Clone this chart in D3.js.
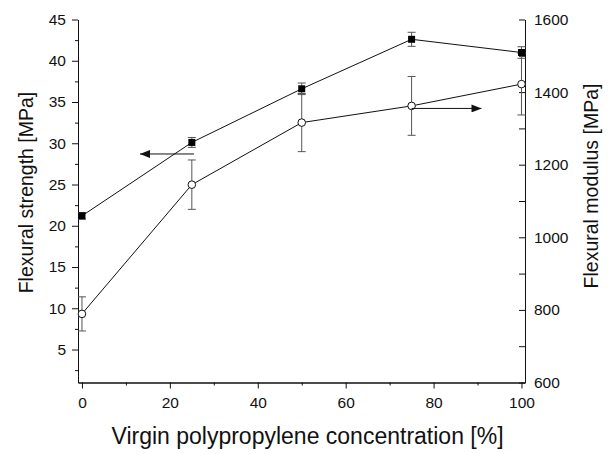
<!DOCTYPE html>
<html lang="en">
<head>
    <meta charset="UTF-8">
    <title>Flexural properties</title>
    <script src="https://d3js.org/d3.v7.min.js"></script>
    <style>
        body { margin: 0; background: #fff; }
        svg { display: block; }
        text { font-family: "Liberation Sans", Arial, sans-serif; fill: #111; }
        .axis path, .axis line { stroke: #111; stroke-width: 1px; }
        .axis text { font-size: 15.5px; }
        .title { font-size: 19.5px; }
    </style>
</head>
<body>
    <svg width="616" height="454"></svg>
    <script>
        // concentration of virgin PP [%]
        const concentration = [0, 25, 50, 75, 100];
        // flexural strength [MPa] (filled squares, left axis)
        const strength = [21.2, 30.1, 36.6, 42.6, 41.0];
        const strengthErr = [0.4, 0.6, 0.7, 0.85, 0.7];
        // flexural modulus [MPa] (open circles, right axis)
        const modulus = [789, 1145, 1316, 1362, 1422];
        const modulusErr = [47, 68, 80, 81, 85];

        const xTicks = [0, 20, 40, 60, 80, 100];
        const leftTicks = [5, 10, 15, 20, 25, 30, 35, 40, 45];
        const rightTicks = [600, 800, 1000, 1200, 1400, 1600];

        // arrows showing which curve belongs to which axis
        const arrows = [
            { from: 25.5, to: 13.2, value: 28.7, side: "left" },
            { from: 75, to: 90.9, value: 1355, side: "right" }
        ];

        const svg = d3.select("svg");
        const margin = { left: 78, right: 525, top: 19.5, bottom: 382.5 };

        const x = d3.scaleLinear().domain([-0.9, 100.8]).range([margin.left, margin.right]);
        const yL = d3.scaleLinear().domain([1, 45]).range([margin.bottom, margin.top]);
        const yR = d3.scaleLinear().domain([600, 1600]).range([margin.bottom, margin.top]);

        // minor ticks halfway between the majors
        const mid = arr => arr.slice(1).map((d, i) => (d + arr[i]) / 2);

        // bottom axis
        svg.append("g").attr("class", "axis")
            .attr("transform", `translate(0,${margin.bottom})`)
            .call(d3.axisBottom(x).tickValues(mid(xTicks)).tickSize(3).tickFormat("").tickSizeOuter(0));
        svg.append("g").attr("class", "axis")
            .attr("transform", `translate(0,${margin.bottom})`)
            .call(d3.axisBottom(x).tickValues(xTicks).tickSize(6).tickPadding(8).tickSizeOuter(0));

        // left axis
        svg.append("g").attr("class", "axis")
            .attr("transform", `translate(${margin.left},0)`)
            .call(d3.axisLeft(yL).tickValues([2.5].concat(mid(leftTicks))).tickSize(3).tickFormat("").tickSizeOuter(0));
        svg.append("g").attr("class", "axis")
            .attr("transform", `translate(${margin.left},0)`)
            .call(d3.axisLeft(yL).tickValues(leftTicks).tickSize(6).tickPadding(6).tickSizeOuter(0));

        // right axis, ticks point inward
        svg.append("g").attr("class", "axis")
            .attr("transform", `translate(${margin.right},0)`)
            .call(d3.axisRight(yR).tickValues(mid(rightTicks)).tickSize(-6).tickFormat("").tickSizeOuter(0));
        svg.append("g").attr("class", "axis")
            .attr("transform", `translate(${margin.right},0)`)
            .call(d3.axisRight(yR).tickValues(rightTicks).tickSize(-6).tickPadding(9)
                .tickFormat(d3.format("d")).tickSizeOuter(0));

        // axis titles
        svg.append("text").attr("class", "title")
            .attr("transform", "translate(33,192.5) rotate(-90)")
            .attr("text-anchor", "middle")
            .text("Flexural strength [MPa]");
        svg.append("text").attr("class", "title")
            .attr("transform", "translate(598,186) rotate(-90)")
            .attr("text-anchor", "middle")
            .text("Flexural modulus [MPa]");
        svg.append("text").attr("class", "title")
            .attr("x", 307.5)
            .attr("y", 444)
            .attr("text-anchor", "middle")
            .style("font-size", "23px")
            .text("Virgin polypropylene concentration [%]");

        const strengthData = concentration.map((c, i) => ({ x: c, y: strength[i], e: strengthErr[i] }));
        const modulusData = concentration.map((c, i) => ({ x: c, y: modulus[i], e: modulusErr[i] }));

        // error bars
        function errorBars(data, y) {
            const g = svg.append("g").attr("stroke", "#555").attr("stroke-width", 1);
            g.selectAll(".stem").data(data).enter().append("line")
                .attr("x1", d => x(d.x)).attr("x2", d => x(d.x))
                .attr("y1", d => y(d.y - d.e)).attr("y2", d => y(d.y + d.e));
            g.selectAll(".capTop").data(data).enter().append("line")
                .attr("x1", d => x(d.x) - 4).attr("x2", d => x(d.x) + 4)
                .attr("y1", d => y(d.y + d.e)).attr("y2", d => y(d.y + d.e));
            g.selectAll(".capBot").data(data).enter().append("line")
                .attr("x1", d => x(d.x) - 4).attr("x2", d => x(d.x) + 4)
                .attr("y1", d => y(d.y - d.e)).attr("y2", d => y(d.y - d.e));
        }
        errorBars(modulusData, yR);
        errorBars(strengthData, yL);

        // connecting lines
        svg.append("path").datum(strengthData)
            .attr("fill", "none").attr("stroke", "#111").attr("stroke-width", 1)
            .attr("d", d3.line().x(d => x(d.x)).y(d => yL(d.y)));
        svg.append("path").datum(modulusData)
            .attr("fill", "none").attr("stroke", "#111").attr("stroke-width", 1)
            .attr("d", d3.line().x(d => x(d.x)).y(d => yR(d.y)));

        // markers
        svg.selectAll(".sq").data(strengthData).enter().append("rect")
            .attr("x", d => x(d.x) - 3.5).attr("y", d => yL(d.y) - 3.5)
            .attr("width", 7).attr("height", 7)
            .attr("fill", "#000");
        svg.selectAll(".circ").data(modulusData).enter().append("circle")
            .attr("cx", d => x(d.x)).attr("cy", d => yR(d.y)).attr("r", 3.8)
            .attr("fill", "#fff").attr("stroke", "#111").attr("stroke-width", 1);

        // arrows
        svg.append("defs").append("marker")
            .attr("id", "head")
            .attr("viewBox", "0 0 10 8")
            .attr("refX", 10).attr("refY", 4)
            .attr("markerWidth", 10).attr("markerHeight", 8)
            .attr("markerUnits", "userSpaceOnUse")
            .attr("orient", "auto")
            .append("path").attr("d", "M0,0L10,4L0,8Z").attr("fill", "#111");

        svg.selectAll(".arrow").data(arrows).enter().append("line")
            .attr("x1", d => x(d.from)).attr("x2", d => x(d.to))
            .attr("y1", d => (d.side === "left" ? yL : yR)(d.value))
            .attr("y2", d => (d.side === "left" ? yL : yR)(d.value))
            .attr("stroke", "#111").attr("stroke-width", 1)
            .attr("marker-end", "url(#head)");
    </script>
</body>
</html>
